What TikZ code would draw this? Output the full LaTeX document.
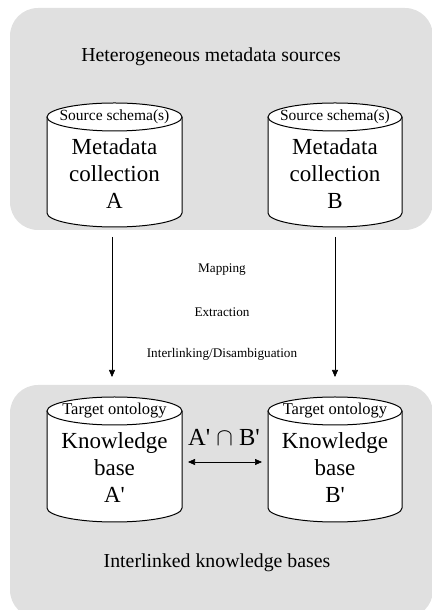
\documentclass[tikz,border=0pt]{standalone}
\usepackage{fontspec}
\setmainfont{Liberation Serif}
\usetikzlibrary{arrows.meta}
\definecolor{panelgray}{HTML}{E0E0E0}
\newcommand{\sq}{\textquotesingle}
\tikzset{
  panel/.style={fill=panelgray, draw=none, rounded corners=28pt},
  cyl/.style={draw=black, fill=white, line width=1pt},
  heading/.style={font=\fontsize{19.8}{22}\selectfont, anchor=center},
  lidtext/.style={font=\fontsize{15.5}{17}\selectfont, anchor=center},
  tgttext/.style={font=\fontsize{16.5}{18}\selectfont, anchor=center},
  bodytext/.style={font=\fontsize{23}{27}\selectfont, align=center, anchor=center},
  steplabel/.style={font=\fontsize{13.2}{15}\selectfont, anchor=center},
  flow/.style={draw=black, line width=0.6pt, -{Triangle[length=7pt,width=6pt]}},
  link/.style={draw=black, line width=0.6pt, {Triangle[length=7pt,width=6pt]}-{Triangle[length=7pt,width=6pt]}}
}
\newcommand{\dbcyl}[4]{% cx, topY, bottomY, rx
  \fill[white] (#1-#4,#2-14) -- (#1-#4,#3+14) arc[start angle=180,end angle=360,x radius=#4,y radius=14] -- (#1+#4,#2-14) arc[start angle=0,end angle=180,x radius=#4,y radius=14] -- cycle;
  \draw[cyl] (#1-#4,#2-14) -- (#1-#4,#3+14) arc[start angle=180,end angle=360,x radius=#4,y radius=14] -- (#1+#4,#2-14);
  \draw[cyl] (#1,#2-14) ellipse[x radius=#4,y radius=14];
}
\begin{document}
\begin{tikzpicture}[x=1pt,y=1pt]
\useasboundingbox (0,0) rectangle (431,610);
% panels
\path[panel] (10,380) rectangle (433,602);
\path[panel] (10,-8) rectangle (433,225);
% cylinders
\dbcyl{114.5}{507}{383}{67.5}
\dbcyl{335}{507}{383}{67}
\dbcyl{114.5}{213}{88}{67.5}
\dbcyl{335}{213}{88}{67}
% texts
\node[heading] (hsrc) at (211,553) {Heterogeneous metadata sources};
\node[lidtext] (lidA) at (114.5,493) {Source schema(s)};
\node[lidtext] (lidB) at (335,493) {Source schema(s)};
\node[bodytext] (colA) at (114.5,436) {Metadata\\collection\\A};
\node[bodytext] (colB) at (335,436) {Metadata\\collection\\B};
\node[tgttext] (tgA) at (114.5,199) {Target ontology};
\node[tgttext] (tgB) at (335,199) {Target ontology};
\node[bodytext] (kbA) at (114.5,142) {Knowledge\\base\\A\sq};
\node[bodytext] (kbB) at (335,142) {Knowledge\\base\\B\sq};
\node[bodytext, font=\fontsize{24.5}{27}\selectfont] (inter) at (224,173) {A\sq{} $\cap$ B\sq};
\node[heading] (hkb) at (217,47) {Interlinked knowledge bases};
\node[steplabel] (map) at (222,340) {Mapping};
\node[steplabel] (ext) at (222,298) {Extraction};
\node[steplabel] (dis) at (222,256) {Interlinking/Disambiguation};
% connectors
\coordinate (aS) at (112,373);
\coordinate (aE) at (112,233);
\coordinate (bS) at (335,373);
\coordinate (bE) at (335,233);
\coordinate (lL) at (188,148);
\coordinate (lR) at (262,148);
\draw[flow] (aS) -- (aE);
\draw[flow] (bS) -- (bE);
\draw[link] (lL) -- (lR);
\end{tikzpicture}
\end{document}
